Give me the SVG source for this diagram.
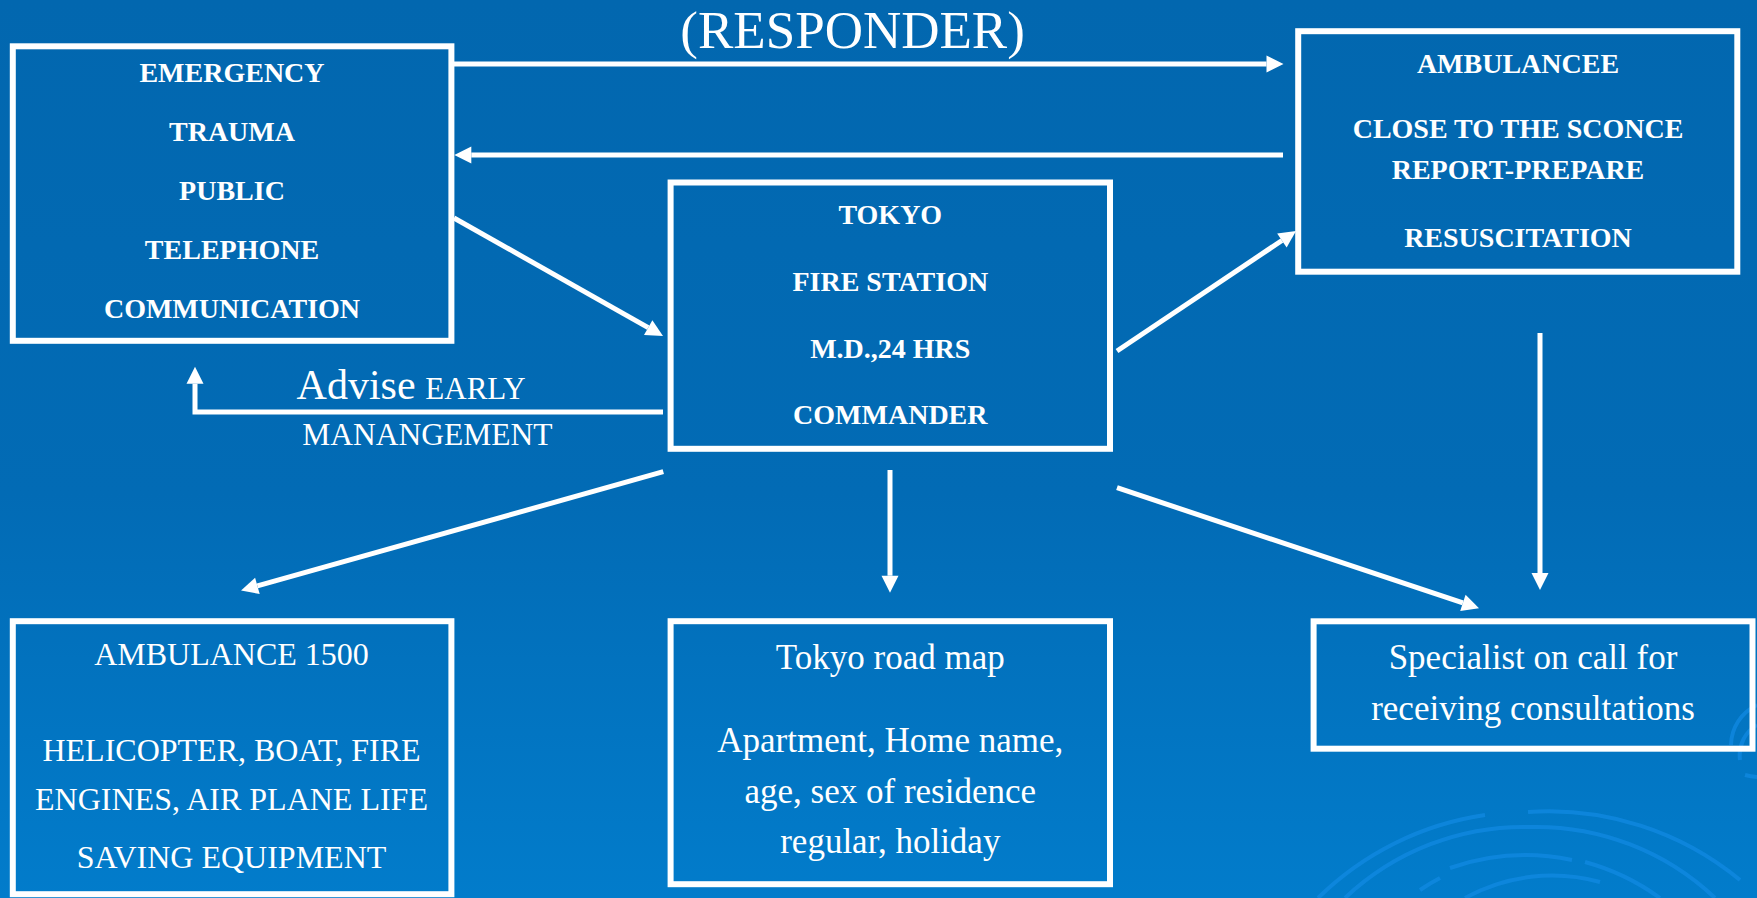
<svg xmlns="http://www.w3.org/2000/svg" width="1757" height="898" viewBox="0 0 1757 898">
  <defs>
    <linearGradient id="bg" x1="0" y1="0" x2="0" y2="1">
      <stop offset="0" stop-color="#0267AF"/>
      <stop offset="0.55" stop-color="#026BB5"/>
      <stop offset="1" stop-color="#027CCB"/>
    </linearGradient>
    <marker id="ah" markerUnits="userSpaceOnUse" markerWidth="18" markerHeight="18" refX="0" refY="8.5" orient="auto" overflow="visible">
      <path d="M0,0 L17,8.5 L0,17 z" fill="#ffffff"/>
    </marker>
    <style>
      .box { fill: none; stroke: #ffffff; stroke-width: 6; }
      .conn { fill: none; stroke: #ffffff; stroke-width: 5; marker-end: url(#ah); }
      .b { font-family: "Liberation Serif", "Times New Roman", serif; font-weight: bold; font-size: 28px; fill: #ffffff; text-anchor: middle; }
      .r { font-family: "Liberation Serif", "Times New Roman", serif; font-size: 32px; fill: #ffffff; text-anchor: middle; }
      .r35 { font-family: "Liberation Serif", "Times New Roman", serif; font-size: 35px; fill: #ffffff; text-anchor: middle; }
      .lbl { font-family: "Liberation Serif", "Times New Roman", serif; fill: #ffffff; }
      .rip { fill: none; stroke: #1189E2; stroke-width: 4; opacity: 0.75; }
    </style>
  </defs>

  <rect x="0" y="0" width="1757" height="898" fill="url(#bg)"/>

  <g id="decoration">
    <path class="rip" d="M1318,898 A300,300 0 0 1 1485,815"/>
    <path class="rip" d="M1528,812 A300,300 0 0 1 1740,880"/>
    <path class="rip" d="M1345,898 A260,260 0 0 1 1530,827 A260,260 0 0 1 1715,898"/>
    <path class="rip" d="M1450,868 A230,230 0 0 1 1572,860"/>
    <path class="rip" d="M1585,862 A230,230 0 0 1 1660,898"/>
    <path class="rip" d="M1420,890 A200,200 0 0 1 1440,878"/>
    <path class="rip" d="M1465,898 A180,180 0 0 1 1600,882"/>
    <path class="rip" d="M1731,745 A45,45 0 0 1 1757,705"/>
    <path class="rip" d="M1740,760 A35,35 0 0 1 1757,725"/>
    <path class="rip" d="M1745,775 A60,60 0 0 0 1757,777"/>
  </g>

  <text class="lbl" x="852.6" y="47.7" font-size="53" text-anchor="middle">(RESPONDER)</text>

  <g id="connectors">
    <path class="conn" d="M454,64 L1266.5,64"/>
    <path class="conn" d="M1283,155 L471.3,155"/>
    <path class="conn" d="M454,218 L648.2,327.6"/>
    <path class="conn" d="M1117,351 L1281.9,240.5"/>
    <path class="conn" d="M663,412 L195,412 L195,383.7"/>
    <path class="conn" d="M663.3,471.7 L257.4,585.9"/>
    <path class="conn" d="M890,470 L890,575.7"/>
    <path class="conn" d="M1117,487.7 L1462.9,602.9"/>
    <path class="conn" d="M1540,333 L1540,573"/>
  </g>

  <g id="advise-label">
    <text class="lbl" x="296.6" y="399.3"><tspan font-size="42">Advise</tspan><tspan font-size="31" dx="2"> EARLY</tspan></text>
    <text class="lbl" x="302.3" y="445" font-size="31.5">MANANGEMENT</text>
  </g>

  <g id="emergency">
    <rect class="box" x="12.8" y="46.3" width="438.6" height="294.5"/>
    <text class="b" x="232" y="81.7">EMERGENCY</text>
    <text class="b" x="232" y="140.7">TRAUMA</text>
    <text class="b" x="232" y="200">PUBLIC</text>
    <text class="b" x="232" y="259">TELEPHONE</text>
    <text class="b" x="232" y="318.3">COMMUNICATION</text>
  </g>

  <g id="ambulancee">
    <rect class="box" x="1298.2" y="31.2" width="439.1" height="240.5"/>
    <text class="b" x="1518" y="72.7">AMBULANCEE</text>
    <text class="b" x="1518" y="138.3">CLOSE TO THE SCONCE</text>
    <text class="b" x="1518" y="179.3">REPORT-PREPARE</text>
    <text class="b" x="1518" y="246.7">RESUSCITATION</text>
  </g>

  <g id="tokyo">
    <rect class="box" x="670.6" y="182.5" width="439.4" height="266.3"/>
    <text class="b" x="890.3" y="224">TOKYO</text>
    <text class="b" x="890.3" y="291">FIRE STATION</text>
    <text class="b" x="890.3" y="357.7">M.D.,24 HRS</text>
    <text class="b" x="890.3" y="424.3">COMMANDER</text>
  </g>

  <g id="ambulance1500">
    <rect class="box" x="12.8" y="621.2" width="438.6" height="273"/>
    <text class="r" x="231.5" y="665">AMBULANCE 1500</text>
    <text class="r" x="231.5" y="760.7">HELICOPTER, BOAT, FIRE</text>
    <text class="r" x="231.5" y="810">ENGINES, AIR PLANE LIFE</text>
    <text class="r" x="231.5" y="867.7">SAVING EQUIPMENT</text>
  </g>

  <g id="roadmap">
    <rect class="box" x="670.6" y="621.2" width="439.4" height="263"/>
    <text class="r35" x="890.3" y="669.3">Tokyo road map</text>
    <text class="r35" x="890.3" y="752.3">Apartment, Home name,</text>
    <text class="r35" x="890.3" y="803.3">age, sex of residence</text>
    <text class="r35" x="890.3" y="853.3">regular, holiday</text>
  </g>

  <g id="specialist">
    <rect class="box" x="1313.6" y="621.3" width="438.9" height="127.4"/>
    <text class="r35" x="1533" y="669.2">Specialist on call for</text>
    <text class="r35" x="1533" y="719.5">receiving consultations</text>
  </g>
</svg>
